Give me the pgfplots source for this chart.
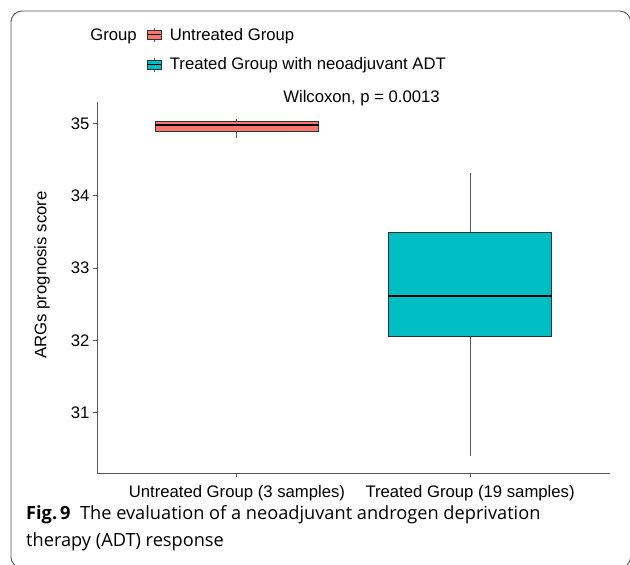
\documentclass[border=0pt]{standalone}
\usepackage{pgfplots}
\pgfplotsset{compat=1.18}
\usepackage{fontspec}
\setmainfont{Liberation Sans}
\newfontfamily\capfont{Open Sans}
\definecolor{untr}{HTML}{F8766D}
\definecolor{trt}{HTML}{00BFC4}
\definecolor{axgray}{HTML}{555555}
\definecolor{boxline}{HTML}{333333}
\newcommand{\chartfont}{\fontsize{16.7}{20}\selectfont}
\pgfplotsset{
  whisk/.style={axgray, line width=1pt, forget plot},
  med/.style={black, line width=2pt, forget plot},
  boxkey/.style={legend image code/.code={
    \draw[axgray, line width=0.8pt] (7pt,-7pt) -- (7pt,7pt);
    \draw[draw=boxline, fill=#1, line width=0.6pt] (0pt,-4.5pt) rectangle (14pt,4.5pt);
    \draw[black, line width=0.9pt] (0pt,0pt) -- (14pt,0pt);}},
}
\begin{document}
\begin{tikzpicture}
\useasboundingbox (0pt,0pt) rectangle (630pt,565pt);
\begin{scope}
\clip (0pt,0pt) rectangle (630pt,565pt);
\draw[axgray, line width=0.9pt, rounded corners=11pt] (11pt,-3pt) rectangle (630.6pt,554pt);
\end{scope}
\begin{axis}[
  at={(97pt,92pt)}, anchor=south west,
  scale only axis, width=513pt, height=371pt,
  xmin=0.4, xmax=2.6, ymin=30.165, ymax=35.30,
  axis x line*=bottom, axis y line*=left,
  axis line style={axgray, line width=0.9pt, -},
  xtick={1,2},
  xticklabels={Untreated Group (3 samples), Treated Group (19 samples)},
  xticklabel style={yshift=-5pt},
  ytick={31,32,33,34,35},
  tick align=outside, major tick length=4pt,
  tick style={axgray, line width=0.9pt},
  ticklabel style={font=\chartfont, text=black},
  /pgf/number format/assume math mode=true,
  legend style={at={(axis description cs:0.097,1.2054)}, anchor=north west,
    draw=none, fill=none, font=\chartfont, inner sep=0pt,
    row sep=12.2pt, cells={anchor=west},
    /tikz/every odd column/.append style={column sep=6pt}},
  legend cell align=left,
]
% Untreated Group (3 samples)
\addplot[whisk] coordinates {(1,35.03) (1,35.065)};
\addplot[whisk] coordinates {(1,34.80) (1,34.893)};
\addplot[draw=boxline, fill=untr, line width=0.8pt, boxkey=untr]
  coordinates {(0.65,34.893) (1.35,34.893) (1.35,35.03) (0.65,35.03) (0.65,34.893)};
\addlegendentry{Untreated Group}
\addplot[med] coordinates {(0.65,34.986) (1.35,34.986)};
% Treated Group (19 samples)
\addplot[whisk] coordinates {(2,33.495) (2,34.32)};
\addplot[whisk] coordinates {(2,30.40) (2,32.06)};
\addplot[draw=boxline, fill=trt, line width=0.8pt, boxkey=trt]
  coordinates {(1.65,32.06) (2.35,32.06) (2.35,33.495) (1.65,33.495) (1.65,32.06)};
\addlegendentry{Treated Group with neoadjuvant ADT}
\addplot[med] coordinates {(1.65,32.62) (2.35,32.62)};
\end{axis}
\node[anchor=base, font=\chartfont] at (113.5pt,524pt) {Group};
\node[anchor=base, font=\chartfont] at (361.5pt,462pt) {Wilcoxon, p = 0.0013};
\node[rotate=90, font=\chartfont] at (42pt,290pt) {ARGs prognosis score};
\node[anchor=base west, inner sep=0pt, font=\capfont\fontsize{18.2}{21}\selectfont] at (26pt,45.6pt) {\textbf{Fig.\,9}\ \ The evaluation of a neoadjuvant androgen deprivation};
\node[anchor=base west, inner sep=0pt, font=\capfont\fontsize{18.2}{21}\selectfont] at (26pt,18.6pt) {therapy (ADT) response};
\end{tikzpicture}
\end{document}
